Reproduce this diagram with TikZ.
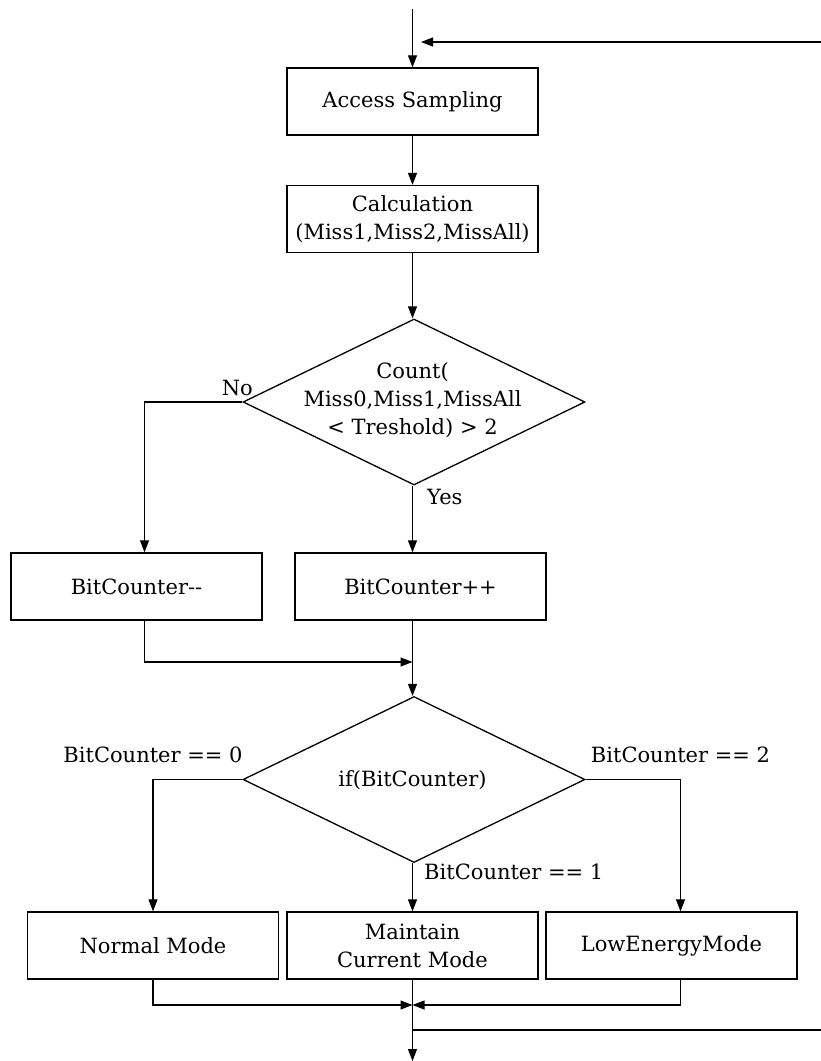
\documentclass[tikz,border=0pt]{standalone}
\usepackage{fontspec}
\setmainfont{DejaVu Serif}
\usetikzlibrary{arrows.meta,shapes.geometric}

\begin{document}
\begin{tikzpicture}[x=1pt,y=-1pt,
    every node/.style={font=\fontsize{21}{28}\selectfont},
    line/.style={line width=1.1pt},
    arr/.style={line, -{Triangle[length=12pt,width=9pt]}},
    procbox/.style={draw, line width=1.3pt, minimum width=251pt, minimum height=67pt,
                    inner sep=0pt, align=center},
    decision/.style={draw, diamond, line width=1.3pt, inner sep=0pt,
                     minimum width=342pt, minimum height=166pt},
    lbl/.style={inner sep=0pt}
  ]
  \useasboundingbox (0,0) rectangle (821,1061);

  % process steps
  \node[procbox] (access) at (412.5,101.5) {Access Sampling};
  \node[procbox] (calc)   at (412.5,219)   {Calculation\\(Miss1,Miss2,MissAll)};

  \node[decision] (d1) at (414,402) {};
  \node[align=center, inner sep=0pt] (d1t) at (412.5,400)
       {Count(\\Miss0,Miss1,MissAll\\< Treshold) > 2};

  \node[procbox] (dec) at (136.5,586.5) {BitCounter-\kern0pt-};
  \node[procbox] (inc) at (420.5,586.5) {BitCounter++};

  \node[decision] (d2) at (414,779.5) {};
  \node[inner sep=0pt] (d2t) at (412.5,780) {if(BitCounter)};

  \node[procbox] (normal)   at (153,945.5)   {Normal Mode};
  \node[procbox] (maintain) at (412.5,945.5) {Maintain\\Current Mode};
  \node[procbox] (low)      at (671.5,945.5) {LowEnergyMode};

  % free ends and junctions
  \coordinate (start) at (412.5,9);
  \coordinate (fbin)  at (821,42);
  \coordinate (fbtip) at (421,42);
  \coordinate (j1)    at (412.5,662);
  \coordinate (j2)    at (412.5,1005);
  \coordinate (fbout) at (821,1030);
  \coordinate (stop)  at (412.5,1061);

  % main flow
  \draw[arr] (start) -- (access.north);
  \draw[arr] (fbin) -- (fbtip);
  \draw[arr] (access.south) -- (calc.north);
  \draw[arr] (calc.south) -- (d1.north -| calc.south);

  \draw[arr] (d1.west) -| ([xshift=8pt]dec.north);
  \draw[arr] (d1.south -| j1) -- (inc.north -| j1);
  \node[lbl, anchor=south east] (no)  at (253,396) {No};
  \node[lbl, anchor=west]       (yes) at (427,497) {Yes};

  \draw[arr] ([xshift=8pt]dec.south) |- (j1);
  \draw[arr] (inc.south -| j1) -- (d2.north -| j1);

  \draw[arr] (d2.west) -| (normal.north);
  \draw[arr] (d2.east) -| ([xshift=9pt]low.north);
  \draw[arr] (d2.south -| j1) -- (maintain.north -| j1);
  \node[lbl] (c0) at (153,755) {BitCounter == 0};
  \node[lbl] (c2) at (680.5,755) {BitCounter == 2};
  \node[lbl, anchor=west] (c1) at (424,872) {BitCounter == 1};

  \draw[arr] (normal.south) |- (j2);
  \draw[arr] ([xshift=9pt]low.south) |- (j2);
  \draw[arr] (maintain.south -| j1) -- (stop);
  \draw[line] (j1 |- fbout) -- (fbout);
\end{tikzpicture}
\end{document}
